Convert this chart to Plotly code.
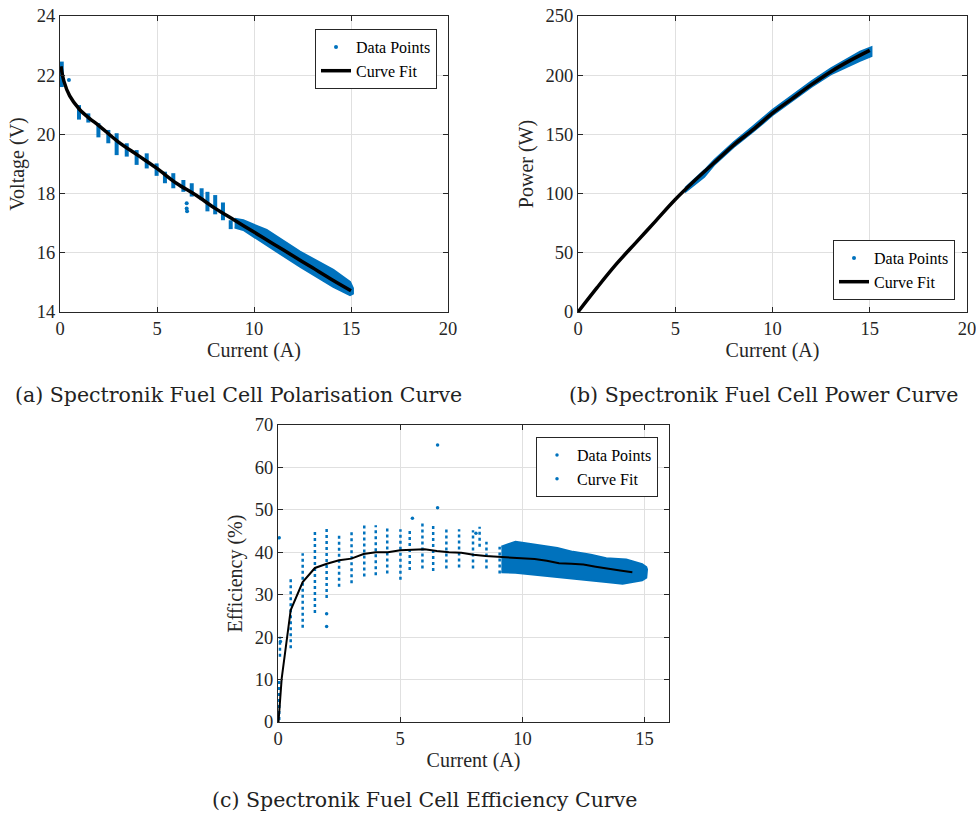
import plotly.graph_objects as go

BLUE = "#0072BD"
AXC = "#262626"
GRID = "#e0e0e0"
SERIF = "Liberation Serif"

# --------------------------
# (a) Polarisation curve data
# --------------------------
pol_fit_i = [0.05, 0.2, 0.5, 1, 1.5, 2, 3, 4, 5, 6, 7, 8, 9, 10, 11, 12, 13, 14, 15]
pol_fit_v = [22.3, 21.8, 21.3, 20.85, 20.55, 20.3, 19.75, 19.3, 18.85, 18.35, 17.95, 17.5,
             17.1, 16.7, 16.3, 15.9, 15.5, 15.1, 14.72]

# vertical clusters of measurements (current, lowest, highest voltage)
pol_strip_i = [0.09, 0.98, 1.46, 1.98, 2.49, 2.92, 3.44, 3.95, 4.47, 4.98, 5.41, 5.84,
               6.36, 6.79, 7.3, 7.6, 8.0, 8.4, 8.8]
pol_strip_lo = [21.6, 20.5, 20.4, 19.9, 19.7, 19.3, 19.25, 18.97, 18.85, 18.6, 18.35, 18.18,
                18.06, 17.9, 17.78, 17.4, 17.3, 17.1, 16.8]
pol_strip_hi = [22.46, 20.99, 20.71, 20.38, 20.15, 20.04, 19.7, 19.47, 19.36, 19.02, 18.74,
                18.69, 18.46, 18.35, 18.18, 18.06, 17.95, 17.7, 17.1]

# dense region at higher current
pol_band_i = [9.0, 9.45, 10.65, 12.37, 14.09, 14.95, 15.1]
pol_band_hi = [17.15, 17.1, 16.77, 16.04, 15.42, 15.02, 14.8]
pol_band_lo = [16.85, 16.77, 16.26, 15.53, 14.85, 14.57, 14.62]

pol_pts_i = [0.46, 6.53, 6.53, 6.55]
pol_pts_v = [21.84, 17.67, 17.5, 17.4]

# --------------------------
# (b) Power curve data
# --------------------------
pow_fit_i = [0, 1, 2, 3, 4, 5, 6, 7, 8, 9, 10, 11, 12, 13, 14, 15]
pow_fit_p = [0, 21, 41, 59, 77, 95, 111, 126, 141, 154, 168, 180, 192, 203, 212.5, 221]

pow_band_i = [5.5, 6.5, 7, 8, 9, 10, 11, 12, 13, 13.5, 14, 14.5, 15.1]
pow_band_hi = [105, 120, 128.5, 143.5, 157, 171, 183, 195, 206, 210.5, 215.5, 220, 224]
pow_band_lo = [101, 114, 124, 139, 152, 166, 178, 190, 200.5, 204, 208, 212, 216]

# --------------------------
# (c) Efficiency curve data
# --------------------------
eff_fit_i = [0.02, 0.15, 0.52, 1.01, 1.51, 2.0, 2.5, 3.0, 3.5, 4.0, 4.5, 5.0, 5.5, 6.0, 6.5,
             7.0, 7.5, 8.0, 8.5, 9.0, 10.0, 10.5, 11.0, 11.5, 12.0, 12.5, 13.0, 13.5, 14.0, 14.5]
eff_fit_e = [0, 10.2, 26.4, 33, 36.3, 37.3, 38.1, 38.5, 39.6, 40, 40, 40.5, 40.6, 40.7, 40.3,
             40, 39.9, 39.4, 39.1, 38.9, 38.5, 38.4, 38, 37.4, 37.3, 37.1, 36.6, 36.1, 35.7, 35.3]

eff_strip_i = [0.05, 0.08, 0.52, 1.01, 1.51, 1.99, 2.5, 3.01, 3.53, 4.0, 4.47, 5.01, 5.39,
               5.91, 6.35, 6.89, 7.41, 7.98, 8.25, 8.53, 9.07]
eff_strip_lo = [0.5, 15.4, 17.4, 22.2, 25.7, 29.2, 31.9, 32.7, 34.3, 34.6, 35.0, 33.5, 35.8,
                36.2, 35.6, 36.2, 36.4, 36.2, 41.3, 36.2, 35.0]
eff_strip_hi = [10.0, 20.1, 33.9, 39.8, 45.2, 46.0, 44.5, 44.8, 47.0, 46.4, 46.0, 45.4, 45.2,
                46.8, 46.8, 45.6, 45.4, 45.2, 46.0, 42.5, 41.3]

eff_band_i = [9.14, 9.72, 10.06, 10.7, 11.43, 12.07, 12.8, 13.43, 14.1, 14.25, 14.9, 15.07, 15.1]
eff_band_hi = [41.3, 42.5, 42.2, 41.7, 41.0, 40.1, 39.4, 38.6, 38.4, 38.3, 37.2, 36.5, 36.0]
eff_band_lo = [35.3, 35.2, 35.0, 34.7, 34.2, 33.8, 33.4, 33.0, 32.6, 32.7, 33.4, 34.0, 35.0]

eff_pts_i = [6.53, 6.53, 5.5, 1.99, 1.99, 0.05, 8.1, 0.1]
eff_pts_e = [65.3, 50.5, 48.0, 22.5, 25.5, 43.4, 44.5, 19.0]


def strips(xs, lo, hi):
    x, y = [], []
    for xi, a, b in zip(xs, lo, hi):
        x += [xi, xi, None]
        y += [a, b, None]
    return x, y


def band(xs, hi, lo):
    return xs + xs[::-1], hi + lo[::-1]


fig = go.Figure()

# ---- (a)
sx, sy = strips(pol_strip_i, pol_strip_lo, pol_strip_hi)
fig.add_trace(go.Scatter(x=sx, y=sy, mode="lines", line=dict(color=BLUE, width=4),
                         showlegend=False, hoverinfo="skip", xaxis="x", yaxis="y"))
bx, by = band(pol_band_i, pol_band_hi, pol_band_lo)
fig.add_trace(go.Scatter(x=bx, y=by, mode="lines", fill="toself", fillcolor=BLUE,
                         line=dict(color=BLUE, width=2), showlegend=False, xaxis="x", yaxis="y"))
fig.add_trace(go.Scatter(x=pol_pts_i, y=pol_pts_v, mode="markers", name="Data Points",
                         marker=dict(color=BLUE, size=4), legend="legend", xaxis="x", yaxis="y"))
fig.add_trace(go.Scatter(x=pol_fit_i, y=pol_fit_v, mode="lines", name="Curve Fit",
                         line=dict(color="black", width=3.5, shape="spline"),
                         legend="legend", xaxis="x", yaxis="y"))

# ---- (b)
bx, by = band(pow_band_i, pow_band_hi, pow_band_lo)
fig.add_trace(go.Scatter(x=bx, y=by, mode="lines", fill="toself", fillcolor=BLUE,
                         line=dict(color=BLUE, width=1.5), showlegend=False, xaxis="x2", yaxis="y2"))
fig.add_trace(go.Scatter(x=[None], y=[None], mode="markers", name="Data Points",
                         marker=dict(color=BLUE, size=4), legend="legend2", xaxis="x2", yaxis="y2"))
fig.add_trace(go.Scatter(x=pow_fit_i, y=pow_fit_p, mode="lines", name="Curve Fit",
                         line=dict(color="black", width=3.5, shape="spline"),
                         legend="legend2", xaxis="x2", yaxis="y2"))

# ---- (c)
sx, sy = strips(eff_strip_i, eff_strip_lo, eff_strip_hi)
fig.add_trace(go.Scatter(x=sx, y=sy, mode="lines", line=dict(color=BLUE, width=2.5, dash="dot"),
                         showlegend=False, hoverinfo="skip", xaxis="x3", yaxis="y3"))
bx, by = band(eff_band_i, eff_band_hi, eff_band_lo)
fig.add_trace(go.Scatter(x=bx, y=by, mode="lines", fill="toself", fillcolor=BLUE,
                         line=dict(color=BLUE, width=2), showlegend=False, xaxis="x3", yaxis="y3"))
fig.add_trace(go.Scatter(x=eff_pts_i, y=eff_pts_e, mode="markers", name="Data Points",
                         marker=dict(color=BLUE, size=3.5), legend="legend3", xaxis="x3", yaxis="y3"))
fig.add_trace(go.Scatter(x=eff_fit_i, y=eff_fit_e, mode="lines", showlegend=False,
                         line=dict(color="black", width=2), xaxis="x3", yaxis="y3"))
# the original legend shows the fit entry with a dot marker
fig.add_trace(go.Scatter(x=[None], y=[None], mode="markers", name="Curve Fit",
                         marker=dict(color=BLUE, size=3.5), legend="legend3", xaxis="x3", yaxis="y3"))


def axis(domain, rng, dtick, title, anchor, standoff):
    return dict(domain=domain, range=rng, dtick=dtick, anchor=anchor,
                showgrid=True, gridcolor=GRID, gridwidth=1, zeroline=False,
                showline=True, mirror="ticks", linecolor=AXC, linewidth=1.2,
                ticks="inside", ticklen=5, tickcolor=AXC, ticklabeloverflow="allow",
                tickfont=dict(family=SERIF, size=18.5, color=AXC),
                title=dict(text=title, font=dict(family=SERIF, size=20, color=AXC), standoff=standoff),
                automargin=False, fixedrange=True)


W, H = 976, 816
def px_x(p): return p / W
def px_y(p): return 1 - p / H

legend_style = dict(bgcolor="white", bordercolor=AXC, borderwidth=1,
                    font=dict(family=SERIF, size=16, color="black"),
                    itemwidth=30, tracegroupgap=0)

fig.update_layout(
    width=W, height=H, margin=dict(l=0, r=0, t=0, b=0),
    paper_bgcolor="white", plot_bgcolor="white",
    xaxis=axis([px_x(60), px_x(448)], [0, 20], 5, "Current (A)", "y", 4),
    yaxis=axis([px_y(312), px_y(16)], [14, 24], 2, "Voltage (V)", "x", 6),
    xaxis2=axis([px_x(578), px_x(967)], [0, 20], 5, "Current (A)", "y2", 4),
    yaxis2=axis([px_y(312), px_y(16)], [0, 250], 50, "Power (W)", "x2", 6),
    xaxis3=axis([px_x(278), px_x(669)], [0, 16], 5, "Current (A)", "y3", 4),
    yaxis3=axis([px_y(722), px_y(425)], [0, 70], 10, "Efficiency (%)", "x3", 6),
    legend=dict(x=px_x(437), y=px_y(29), xanchor="right", yanchor="top", **legend_style),
    legend2=dict(x=px_x(955), y=px_y(300), xanchor="right", yanchor="bottom", **legend_style),
    legend3=dict(x=px_x(658), y=px_y(437), xanchor="right", yanchor="top", **legend_style),
)

captions = [
    ("(a) Spectronik Fuel Cell Polarisation Curve", 238, 395),
    ("(b) Spectronik Fuel Cell Power Curve", 763, 395),
    ("(c) Spectronik Fuel Cell Efficiency Curve", 424, 800),
]
for text, cx, cy in captions:
    fig.add_annotation(text=text, x=px_x(cx), y=px_y(cy), xref="paper", yref="paper",
                       showarrow=False, xanchor="center", yanchor="middle",
                       font=dict(family="DejaVu Serif", size=20.5, color="#222222"))

# drop the default page margin so the figure fills the window exactly
fig.write_html("out.html", config={"displayModeBar": False},
               post_script="document.body.style.margin='0';")
